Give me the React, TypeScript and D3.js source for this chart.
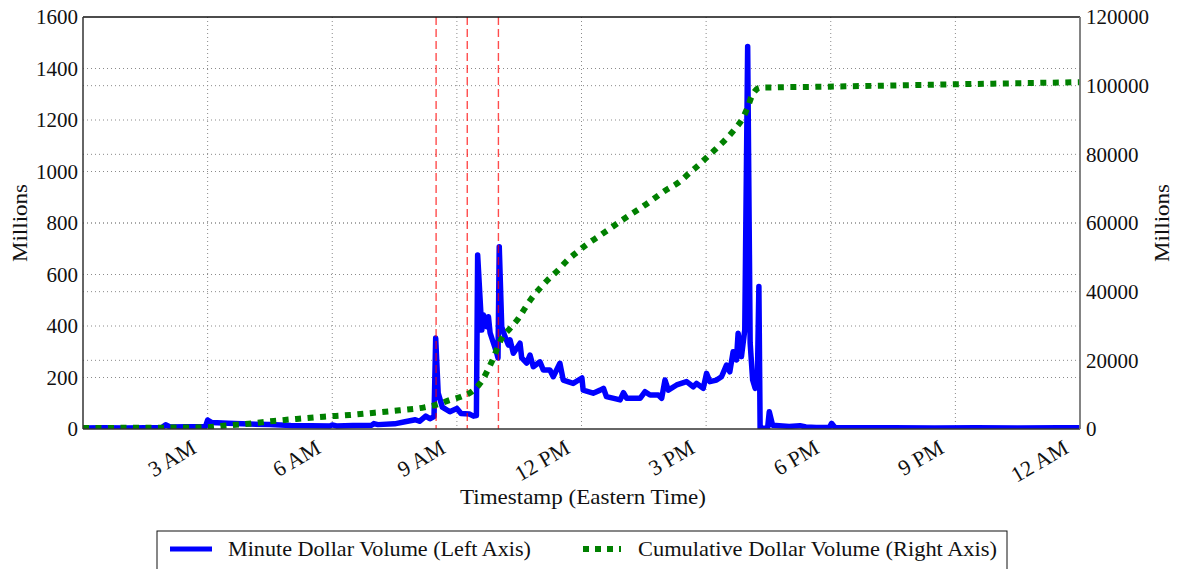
import React from "react";
import * as d3 from "d3";

// Minute dollar volume (left axis, millions) — [hour of day, value]
const minuteHours = [
  0.0, 0.5, 1.0, 1.5, 1.9, 1.99, 2.1, 2.5, 2.95, 3.0, 3.1, 3.5, 4.0, 4.5, 5.0, 5.5, 5.95, 6.0, 6.1, 6.5,
  6.95, 7.0, 7.1, 7.5, 7.75, 8.0, 8.1, 8.25, 8.35, 8.45, 8.49, 8.55, 8.65, 8.83, 9.0, 9.1, 9.3, 9.4, 9.47,
  9.5, 9.6, 9.64, 9.72, 9.76, 9.8, 9.88, 9.96, 9.99, 10.02, 10.08, 10.16, 10.24, 10.28, 10.36, 10.52,
  10.56, 10.68, 10.76, 10.84, 11.0, 11.08, 11.24, 11.32, 11.48, 11.56, 11.8, 12.01, 12.04, 12.28, 12.45,
  12.53, 12.6, 12.93, 13.01, 13.09, 13.41, 13.53, 13.65, 13.85, 13.93, 14.01, 14.09, 14.29, 14.53, 14.69,
  14.77, 14.93, 15.01, 15.09, 15.25, 15.37, 15.49, 15.57, 15.65, 15.73, 15.77, 15.85, 15.93, 16.0, 16.06,
  16.12, 16.18, 16.23, 16.27, 16.3, 16.48, 16.52, 16.6, 17.0, 17.26, 17.4, 17.65, 17.97, 18.02, 18.1,
  18.5, 19.5, 20.5, 21.5, 22.5, 23.5, 24.0,
];
const minuteValues = [
  4, 5, 4, 5, 6, 16, 8, 9, 10, 35, 25, 22, 19, 17, 14, 13, 12, 16, 12, 14,
  15, 21, 17, 20, 28, 36, 30, 50, 40, 48, 353, 140, 85, 67, 80, 60, 58, 50, 52,
  676, 384, 443, 397, 436, 373, 334, 295, 276, 708, 397, 358, 326, 346, 294, 333,
  276, 256, 287, 242, 261, 229, 229, 203, 255, 190, 177, 198, 151, 139, 151,
  158, 126, 113, 141, 119, 119, 145, 132, 132, 119, 190, 151, 171, 184, 164,
  177, 158, 216, 184, 190, 203, 248, 222, 300, 268, 372, 281, 384, 1485, 334,
  190, 158, 164, 553, 3, 4, 67, 15, 10, 13, 8, 6, 7, 22, 6,
  5, 5, 4, 5, 4, 5, 5,
];

// Cumulative dollar volume (right axis, millions)
const cumHours = [
  0, 2.0, 3.0, 3.37, 3.99, 4.59, 5.2, 5.8, 6.42, 7.02, 7.62, 8.22, 8.55, 8.83, 9.1, 9.36, 9.56, 9.84,
  10.08, 10.28, 10.48, 10.64, 10.8, 11.0, 11.2, 11.44, 11.64, 11.88, 12.13, 12.4, 13.0, 13.5, 14.0,
  14.37, 14.61, 14.85, 15.05, 15.29, 15.5, 15.7, 15.88, 16.0, 16.1, 16.3, 16.62, 17.82, 21.0, 24.0,
];
const cumValues = [
  300, 400, 500, 960, 1550, 2330, 3000, 3600, 4080, 4750, 5440, 6310, 7200, 8450, 9400, 10900, 13300, 19600,
  26400, 29300, 32200, 35200, 38100, 41000, 43600, 46300, 48900, 51400, 53800, 56000, 61000, 65000, 69300,
  72100, 74700, 77200, 79500, 82200, 84700, 87500, 90500, 93700, 97000, 99400, 99500, 99700, 100400, 101000,
];

const xTickHours = [3, 6, 9, 12, 15, 18, 21, 24];
const xTickLabels = ["3 AM", "6 AM", "9 AM", "12 PM", "3 PM", "6 PM", "9 PM", "12 AM"];
const leftTicks = [0, 200, 400, 600, 800, 1000, 1200, 1400, 1600];
const rightTicks = [0, 20000, 40000, 60000, 80000, 100000, 120000];
const eventHours = [8.5, 9.25, 10.0];

const W = 1177;
const H = 569;
const X0 = 83;
const X1 = 1080;
const Y0 = 429;
const Y1 = 17;
const FONT = "'Liberation Serif', 'DejaVu Serif', serif";

export default function App() {
  const x = d3.scaleLinear().domain([0, 24]).range([X0, X1]);
  const yL = d3.scaleLinear().domain([0, 1600]).range([Y0, Y1]);
  const yR = d3.scaleLinear().domain([0, 120000]).range([Y0, Y1]);

  const minuteData = minuteHours.map((h, i) => [h, minuteValues[i]] as [number, number]);
  const cumData = cumHours.map((h, i) => [h, cumValues[i]] as [number, number]);

  const blueLine = d3
    .line<[number, number]>()
    .x((d) => x(d[0]))
    .y((d) => yL(d[1]))(minuteData) as string;
  const greenLine = d3
    .line<[number, number]>()
    .x((d) => x(d[0]))
    .y((d) => yR(d[1]))
    .curve(d3.curveMonotoneX)(cumData) as string;

  const gridStyle = { stroke: "#8a8a8a", strokeWidth: 1, strokeDasharray: "1 3" };

  return (
    <svg
      width={W}
      height={H}
      style={{ position: "absolute", left: 0, top: 0, background: "#fff" }}
      fontFamily={FONT}
    >
      <defs>
        <clipPath id="plotclip">
          <rect x={X0} y={Y1} width={X1 - X0} height={Y0 - Y1} />
        </clipPath>
      </defs>
      <rect x={0} y={0} width={W} height={H} fill="#fff" />

      {/* grids */}
      {xTickHours.slice(0, -1).map((h) => (
        <line key={"gx" + h} x1={x(h)} x2={x(h)} y1={Y1} y2={Y0} {...gridStyle} />
      ))}
      {leftTicks.slice(1, -1).map((v) => (
        <line key={"gl" + v} x1={X0} x2={X1} y1={yL(v)} y2={yL(v)} {...gridStyle} />
      ))}
      {rightTicks.slice(1, -1).map((v) => (
        <line key={"gr" + v} x1={X0} x2={X1} y1={yR(v)} y2={yR(v)} {...gridStyle} />
      ))}

      <g clipPath="url(#plotclip)">
        <path d={blueLine} fill="none" stroke="#0000ff" strokeWidth={5.5} strokeLinejoin="round" strokeLinecap="round" />
        {eventHours.map((h) => (
          <line
            key={"ev" + h}
            x1={x(h)}
            x2={x(h)}
            y1={Y1}
            y2={Y0}
            stroke="#ff0000"
            strokeOpacity={0.7}
            strokeWidth={1.4}
            strokeDasharray="8 4"
          />
        ))}
        <path d={greenLine} fill="none" stroke="#008000" strokeWidth={6} strokeDasharray="6 6.5" />
      </g>

      {/* spines */}
      <line x1={X0} x2={X1} y1={Y1} y2={Y1} stroke="#111" strokeWidth={1.3} />
      <line x1={X0} x2={X0} y1={Y1} y2={Y0} stroke="#333" strokeWidth={1.5} />
      <line x1={X0} x2={X1} y1={Y0} y2={Y0} stroke="#333" strokeWidth={1.5} />
      <line x1={X1} x2={X1} y1={Y1} y2={Y0} stroke="#777" strokeWidth={1.8} />

      {/* left ticks */}
      {leftTicks.map((v) => (
        <text key={"lt" + v} x={78} y={yL(v)} dy="0.35em" textAnchor="end" fontSize={21} fill="#111">
          {v}
        </text>
      ))}
      {/* right ticks */}
      {rightTicks.map((v) => (
        <text key={"rt" + v} x={1086} y={yR(v)} dy="0.35em" textAnchor="start" fontSize={21} fill="#111">
          {v}
        </text>
      ))}
      {/* x ticks */}
      {xTickHours.map((h, i) => (
        <text
          key={"xt" + h}
          transform={`translate(${x(h) - 10},452) rotate(-30)`}
          textAnchor="end"
          fontSize={22}
          fill="#111"
        >
          {xTickLabels[i]}
        </text>
      ))}

      {/* axis titles */}
      <text x={583} y={504} textAnchor="middle" fontSize={21} fill="#111" textLength={246} lengthAdjust="spacingAndGlyphs">
        Timestamp (Eastern Time)
      </text>
      <text transform="translate(27,223) rotate(-90)" textAnchor="middle" fontSize={21} fill="#111" textLength={78} lengthAdjust="spacingAndGlyphs">
        Millions
      </text>
      <text transform="translate(1169,223) rotate(-90)" textAnchor="middle" fontSize={21} fill="#111" textLength={78} lengthAdjust="spacingAndGlyphs">
        Millions
      </text>

      {/* legend */}
      <rect x={157} y={531} width={850} height={60} fill="#fff" stroke="#111" strokeWidth={1} />
      <line x1={170} x2={212} y1={549} y2={549} stroke="#0000ff" strokeWidth={5} />
      <text x={228} y={556} fontSize={21} fill="#111" textLength={303} lengthAdjust="spacingAndGlyphs">
        Minute Dollar Volume (Left Axis)
      </text>
      <line x1={583} x2={621} y1={549} y2={549} stroke="#008000" strokeWidth={6} strokeDasharray="6 6" />
      <text x={638} y={556} fontSize={21} fill="#111" textLength={359} lengthAdjust="spacingAndGlyphs">
        Cumulative Dollar Volume (Right Axis)
      </text>
    </svg>
  );
}
